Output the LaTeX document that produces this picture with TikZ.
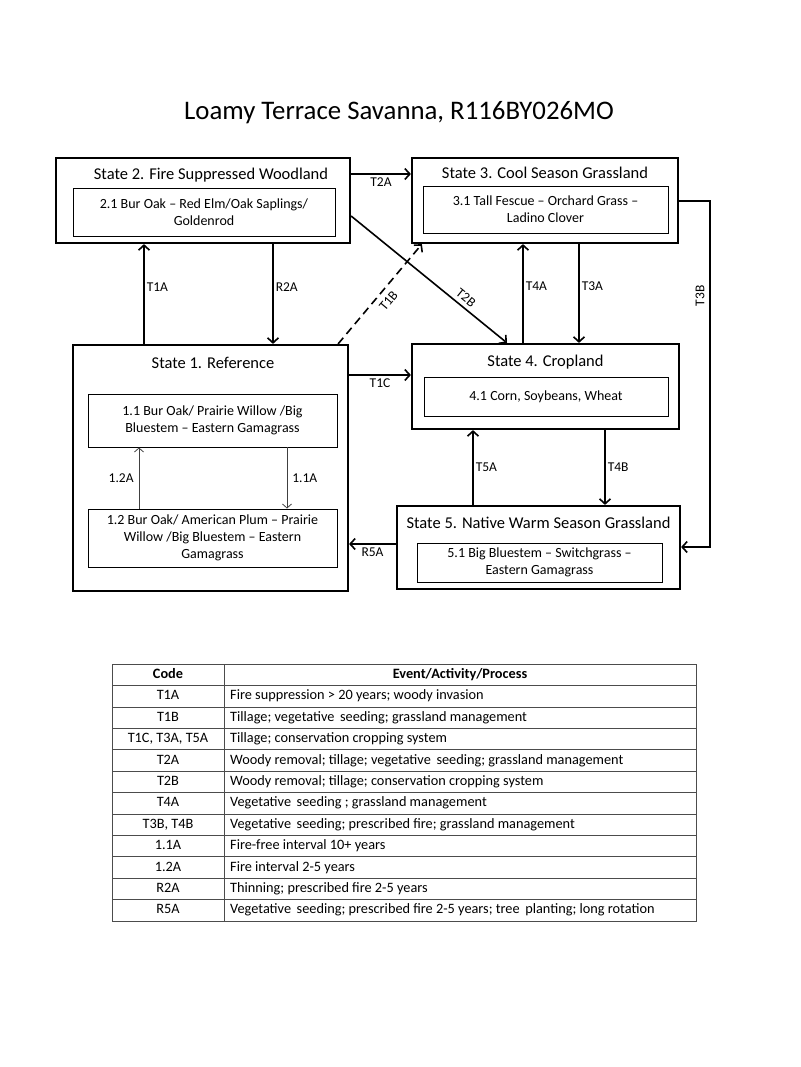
\documentclass[tikz,border=0pt]{standalone}
\usepackage{fontspec}
\setmainfont{Carlito}
\usetikzlibrary{arrows.meta}

\begin{document}
\begin{tikzpicture}[x=1pt, y=-1pt,
		statebox/.style={draw, line width=2.2pt, inner sep=0},
		phasebox/.style={draw, line width=0.9pt, align=center, inner sep=0, font=\fontsize{14}{17}\selectfont},
		statetitle/.style={font=\fontsize{16.5}{20}\selectfont, inner sep=0},
		arr/.style={line width=1.6pt, -{Straight Barb[length=5pt, width=11pt]}},
		thinarr/.style={line width=0.8pt, draw=black!75, -{Straight Barb[length=4pt, width=9pt]}},
		lbl/.style={font=\fontsize{13.5}{16}\selectfont, inner sep=2pt},
		tbl/.style={line width=0.9pt, draw=black!70},
		cell/.style={font=\fontsize{14.3}{17}\selectfont, inner sep=0, text height=10pt, text depth=3pt}]
		\useasboundingbox (0,0) rectangle (800,1067);
		\node[font=\fontsize{26.8}{32}\selectfont] (title) at (399,113) {Loamy Terrace Savanna, R116BY026MO};

		% states and their phases
		\node[statebox, minimum width=294, minimum height=85] (s2) at (203,200.5) {};
		\node[statetitle] (s2t) at (211,175) {State 2. Fire Suppressed Woodland};
		\node[phasebox, minimum width=262, minimum height=48] (p21) at (204,212) {2.1 Bur Oak – Red Elm/Oak Saplings/\\Goldenrod};
		\node[statebox, minimum width=266, minimum height=85] (s3) at (545,200.5) {};
		\node[statetitle] (s3t) at (545,173) {State 3. Cool Season Grassland};
		\node[phasebox, minimum width=245, minimum height=47] (p31) at (545.5,209.5) {3.1 Tall Fescue – Orchard Grass –\\Ladino Clover};
		\node[statebox, minimum width=275, minimum height=246] (s1) at (210.5,468) {};
		\node[statetitle] (s1t) at (213,363) {State 1. Reference};
		\node[phasebox, minimum width=249, minimum height=53] (p11) at (212.5,420.5) {1.1 Bur Oak/ Prairie Willow /Big\\Bluestem – Eastern Gamagrass};
		\node[phasebox, minimum width=249, minimum height=58] (p12) at (212.5,538) {1.2 Bur Oak/ American Plum – Prairie\\Willow /Big Bluestem – Eastern\\Gamagrass};
		\node[statebox, minimum width=267, minimum height=85] (s4) at (545.5,386.5) {};
		\node[statetitle] (s4t) at (545.5,362) {State 4. Cropland};
		\node[phasebox, minimum width=244, minimum height=39] (p41) at (546,396.5) {4.1 Corn, Soybeans, Wheat};
		\node[statebox, minimum width=283, minimum height=83] (s5) at (538.5,547.5) {};
		\node[statetitle] (s5t) at (538.5,523) {State 5. Native Warm Season Grassland};
		\node[phasebox, minimum width=245, minimum height=39] (p51) at (539.5,562.5) {5.1 Big Bluestem – Switchgrass –\\Eastern Gamagrass};

		% transitions
		\draw[arr] (s2.east |- 0,174) -- node[lbl, below=1pt] (t2a) {T2A} (s3.west |- 0,174);
		\draw[arr] (s3.east |- 0,201) -- (710,201) |- (s5.east |- 0,547);
		\node[lbl, rotate=90] (t3b) at (700,296) {T3B};
		\draw[arr] (144,0 |- s1.north) -- node[lbl, right, pos=0.57] (t1a) {T1A} (144,0 |- s2.south);
		\draw[arr] (273,0 |- s2.south) -- node[lbl, right, pos=0.43] (r2a) {R2A} (273,0 |- s1.north);
		\draw[arr, dash pattern=on 8pt off 5pt] ([xshift=-11]s1.north east) -- node[lbl, sloped, below=4pt, pos=0.5] (t1b) {T1B} ([xshift=11]s3.south west);
		\draw[arr] (s2.east |- 0,216) -- node[lbl, sloped, above=2pt, pos=0.7] (t2b) {T2B} (507,0 |- s4.north);
		\draw[arr] (s1.east |- 0,375) -- node[lbl, below=1pt] (t1c) {T1C} (s4.west |- 0,375);
		\draw[arr] (523,0 |- s4.north) -- node[lbl, right, pos=0.57] (t4a) {T4A} (523,0 |- s3.south);
		\draw[arr] (579,0 |- s3.south) -- node[lbl, right, pos=0.43] (t3a) {T3A} (579,0 |- s4.north);
		\draw[arr] (473,0 |- s5.north) -- node[lbl, right] (t5a) {T5A} (473,0 |- s4.south);
		\draw[arr] (605,0 |- s4.south) -- node[lbl, right] (t4b) {T4B} (605,0 |- s5.north);
		\draw[arr] (s5.west |- 0,544) -- node[lbl, below=1pt] (r5a) {R5A} (s1.east |- 0,544);
		\draw[thinarr] (139,0 |- p12.north) -- node[lbl, left=3pt] (c12a) {1.2A} (139,0 |- p11.south);
		\draw[thinarr] (287,0 |- p11.south) -- node[lbl, right=3pt] (c11a) {1.1A} (287,0 |- p12.north);

		% legend table
		\draw[tbl] (112,664) rectangle (696,921);
		\draw[tbl] (224,664) -- (224,921);
		\draw[tbl] (112,685.5) -- (696,685.5) (112,707) -- (696,707) (112,728.4) -- (696,728.4)
			(112,749.8) -- (696,749.8) (112,771.2) -- (696,771.2) (112,792.6) -- (696,792.6)
			(112,814) -- (696,814) (112,835.4) -- (696,835.4) (112,856.8) -- (696,856.8)
			(112,878.2) -- (696,878.2) (112,899.6) -- (696,899.6);
		\node[cell, font=\fontsize{14.3}{17}\bfseries] (hcode) at (168,674.8) {Code};
		\node[cell, font=\fontsize{14.3}{17}\bfseries] (hevent) at (460,674.8) {Event/Activity/Process};
		\node[cell] (c1) at (168,696.3) {T1A};
		\node[cell, anchor=west] (e1) at (230,696.3) {Fire suppression > 20 years; woody invasion};
		\node[cell] (c2) at (168,717.7) {T1B};
		\node[cell, anchor=west] (e2) at (230,717.7) {Tillage; vegetative\, seeding; grassland management};
		\node[cell] (c3) at (168,739.1) {T1C, T3A, T5A};
		\node[cell, anchor=west] (e3) at (230,739.1) {Tillage; conservation cropping system};
		\node[cell] (c4) at (168,760.5) {T2A};
		\node[cell, anchor=west] (e4) at (230,760.5) {Woody removal; tillage; vegetative\, seeding; grassland management};
		\node[cell] (c5) at (168,781.9) {T2B};
		\node[cell, anchor=west] (e5) at (230,781.9) {Woody removal; tillage; conservation cropping system};
		\node[cell] (c6) at (168,803.3) {T4A};
		\node[cell, anchor=west] (e6) at (230,803.3) {Vegetative\, seeding ; grassland management};
		\node[cell] (c7) at (168,824.7) {T3B, T4B};
		\node[cell, anchor=west] (e7) at (230,824.7) {Vegetative\, seeding; prescribed fire; grassland management};
		\node[cell] (c8) at (168,846.1) {1.1A};
		\node[cell, anchor=west] (e8) at (230,846.1) {Fire-free interval 10+ years};
		\node[cell] (c9) at (168,867.5) {1.2A};
		\node[cell, anchor=west] (e9) at (230,867.5) {Fire interval 2-5 years};
		\node[cell] (c10) at (168,888.9) {R2A};
		\node[cell, anchor=west] (e10) at (230,888.9) {Thinning; prescribed fire 2-5 years};
		\node[cell] (c11) at (168,910.3) {R5A};
		\node[cell, anchor=west] (e11) at (230,910.3) {Vegetative\, seeding; prescribed fire 2-5 years; tree\, planting; long rotation};
	\end{tikzpicture}
\end{document}
